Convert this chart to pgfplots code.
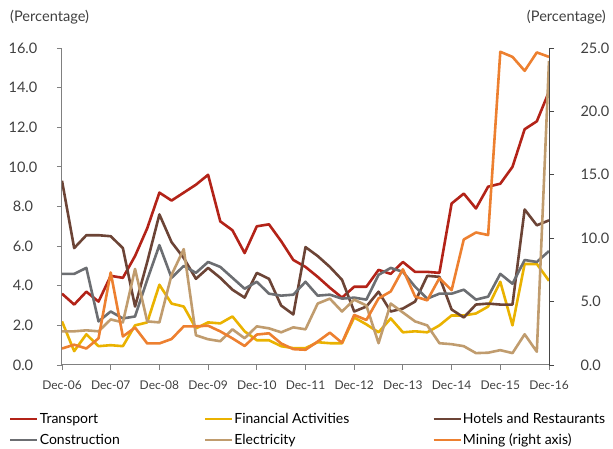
\documentclass[border=0pt]{standalone}
\usepackage{fontspec}
\setmainfont{Lato}
\usepackage{pgfplots}
\usepackage{pgfplotstable}
\pgfplotsset{compat=1.18}

\definecolor{cTrans}{RGB}{179,35,24}
\definecolor{cFin}{RGB}{234,178,0}
\definecolor{cHot}{RGB}{108,68,54}
\definecolor{cCon}{RGB}{108,110,114}
\definecolor{cEle}{RGB}{192,156,110}
\definecolor{cMin}{RGB}{237,128,48}
\definecolor{cAxis}{RGB}{128,128,128}
\definecolor{cAxisR}{RGB}{70,70,70}
\definecolor{cText}{RGB}{64,64,64}

% quarterly, Dec-06 = 0 ... Dec-16 = 40; mining in right-axis units
\pgfplotstableread{
i  tr    fin   hot   con   ele   min
0  3.6   2.2   9.3   4.6   1.7   1.3
1  3.05  0.7   5.9   4.6   1.7   1.6
2  3.7   1.55  6.55  4.9   1.75  1.3
3  3.2   0.95  6.55  2.2   1.7   2.1
4  4.5   1.0   6.5   2.7   2.3   7.3
5  4.4   0.95  5.9   2.35  2.15  2.25
6  5.5   2.0   2.95  2.45  4.85  2.95
7  6.9   2.15  5.2   4.3   2.2   1.7
8  8.7   4.05  7.6   6.05  2.15  1.7
9  8.3   3.1   6.2   4.4   4.55  2.05
10 8.7   2.95  5.4   5.0   5.85  3.05
11 9.1   1.85  4.35  4.65  1.5   3.05
12 9.6   2.15  4.9   5.2   1.3   3.1
13 7.25  2.1   4.4   4.95  1.2   2.65
14 6.8   2.45  3.8   4.4   1.8   2.1
15 5.65  1.7   3.4   3.85  1.35  1.5
16 7.0   1.25  4.65  4.2   1.95  2.4
17 7.1   1.25  4.35  3.6   1.85  2.5
18 6.25  0.95  3.0   3.5   1.65  1.7
19 5.3   0.85  2.55  3.55  1.9   1.25
20 4.95  0.85  5.95  4.2   1.8   1.2
21 4.45  1.15  5.5   3.5   3.1   1.85
22 3.9   1.1   4.95  3.55  3.35  2.55
23 3.4   1.1   4.3   3.35  2.7   1.75
24 3.95  2.4   2.7   3.4   3.3   3.95
25 3.95  2.05  2.95  3.3   3.0   3.55
26 4.8   1.65  3.7   4.55  1.1   5.25
27 4.6   2.35  2.7   4.9   3.1   5.8
28 5.2   1.65  2.85  4.7   2.65  7.55
29 4.7   1.7   3.2   3.95  2.2   5.4
30 4.7   1.65  4.5   3.35  2.0   5.1
31 4.65  2.0   4.45  3.6   1.1   6.85
32 8.15  2.5   2.8   3.6   1.05  5.9
33 8.65  2.5   2.4   3.8   0.95  9.9
34 7.9   2.6   3.05  3.3   0.6   10.45
35 9.0   2.95  3.1   3.45  0.62  10.25
36 9.15  4.2   3.05  4.6   0.75  24.7
37 10.0  2.0   3.05  4.1   0.6   24.3
38 11.9  5.1   7.85  5.3   1.55  23.2
39 12.3  5.1   7.05  5.2   0.67  24.65
40 13.8  4.25  7.3   5.75  15.35 24.3
}\datatable

\pgfplotsset{
    base/.style={
        scale only axis,
        width=487pt,
        height=317pt,
        xmin=0, xmax=40,
        ymin=0,
        tick align=outside,
        major tick length=5pt,
        tick style={draw=cAxis, line width=0.9pt},
        axis line style={draw=cAxis, line width=1pt},
        tick label style={font=\fontsize{14.5}{16}\selectfont, text=cText},
        yticklabel style={
            /pgf/number format/fixed,
            /pgf/number format/fixed zerofill,
            /pgf/number format/precision=1,
            /pgf/number format/assume math mode=true},
    },
    ser/.style={line width=2.6pt, line join=round}
}

\begin{document}
\begin{tikzpicture}
\useasboundingbox (-62pt,-84pt) rectangle (551pt,365pt);
\begin{axis}[
    base,
    ymax=16,
    axis y line*=left,
    axis x line*=bottom,
    ytick={0,2,...,16},
    yticklabel style={anchor=center, xshift=-34pt},
    xtick={0,4,...,40},
    xticklabels={Dec-06,Dec-07,Dec-08,Dec-09,Dec-10,Dec-11,Dec-12,Dec-13,Dec-14,Dec-15,Dec-16},
    xticklabel style={font=\fontsize{12}{14}\selectfont, yshift=-7pt},
    legend columns=3,
    legend cell align=left,
    legend style={
        at={(0,0)}, anchor=north west,
        xshift=-53pt, yshift=-47pt,
        draw=none, fill=none, inner sep=0pt,
        nodes={inner sep=1pt},
        font=\fontsize{14}{16}\selectfont,
        row sep=7pt,
        /tikz/column 2/.style={column sep=83pt},
        /tikz/column 4/.style={column sep=82pt},
    },
    legend image code/.code={\draw[#1] (0pt,0pt) -- (27pt,0pt);},
]
\addplot[ser, cTrans] table[x=i, y=tr] {\datatable};
\addlegendentry{Transport}
\addplot[ser, cFin] table[x=i, y=fin] {\datatable};
\addlegendentry{Financial Activities}
\addplot[ser, cHot] table[x=i, y=hot] {\datatable};
\addlegendentry{Hotels and Restaurants}
\addplot[ser, cCon] table[x=i, y=con] {\datatable};
\addlegendentry{Construction}
\addplot[ser, cEle] table[x=i, y=ele] {\datatable};
\addlegendentry{Electricity}
\addlegendimage{ser, cMin}
\addlegendentry{Mining (right axis)}
\end{axis}
\begin{axis}[
    base,
    ymax=25,
    axis y line*=right,
    axis x line=none,
    axis line style={draw=cAxisR, line width=1pt},
    tick style={draw=cAxisR, line width=0.9pt},
    ytick={0,5,...,25},
    yticklabel style={anchor=west, xshift=23pt},
]
\addplot[ser, cMin] table[x=i, y=min] {\datatable};
\end{axis}
\node[anchor=west, text=cText, font=\fontsize{14.6}{16}\selectfont, inner sep=0pt] at (-52pt,348pt) {(Percentage)};
\node[anchor=east, text=cText, font=\fontsize{14.6}{16}\selectfont, inner sep=0pt] at (544pt,348pt) {(Percentage)};
\end{tikzpicture}
\end{document}
